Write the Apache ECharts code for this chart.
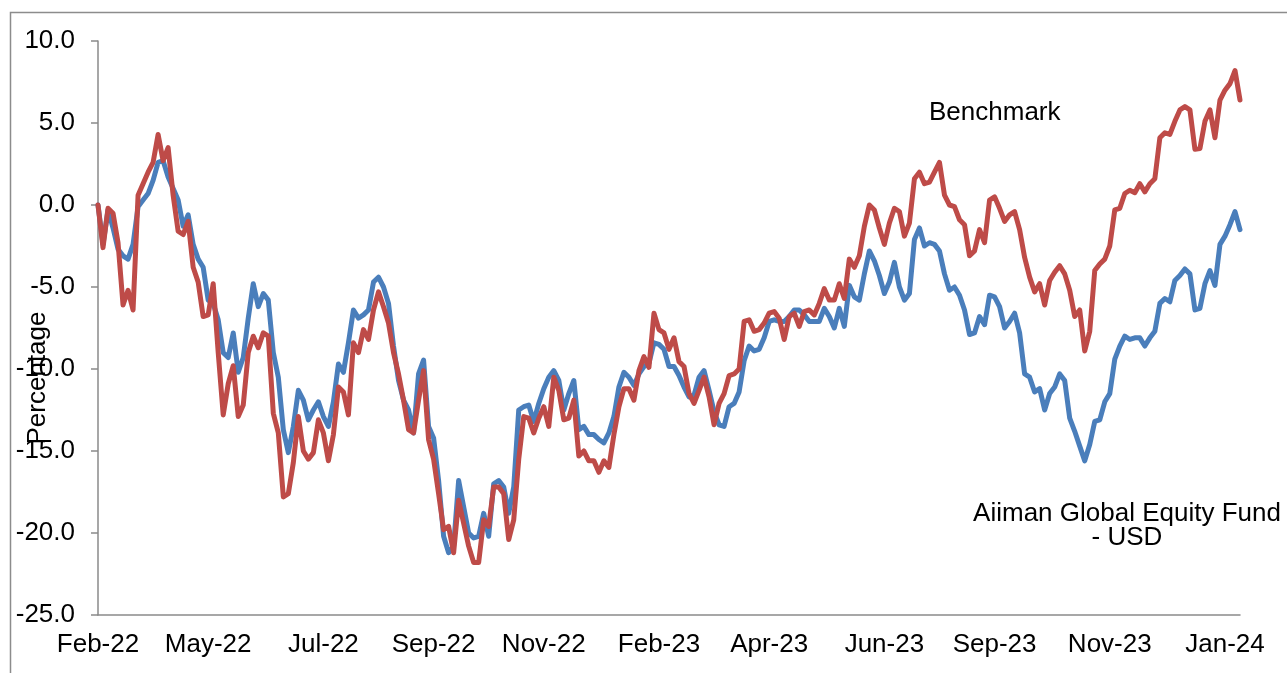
<!DOCTYPE html>
<html>
<head>
<meta charset="utf-8">
<script src="https://cdn.jsdelivr.net/npm/echarts@6/dist/echarts.min.js"></script>
<style>
html,body{margin:0;padding:0;background:#fff;}
#chart{width:1287px;height:673px;}
</style>
</head>
<body>
<div id="chart"></div>
<script>
// Tick labels on the x axis and the category index where each appears
var tickLabels = ['Feb-22','May-22','Jul-22','Sep-22','Nov-22','Feb-23','Apr-23','Jun-23','Sep-23','Nov-23','Jan-24'];
var tickIndex = [0,22,45,67,89,112,134,157,179,202,225];

// Aiiman Global Equity Fund - USD (%)
var fund = [
0.0,-2.4,-0.3,-1.4,-2.7,-3.1,-3.3,-2.4,-0.1,0.3,
0.7,1.5,2.6,2.7,1.7,1.0,0.3,-1.3,-0.6,-2.4,
-3.3,-3.8,-5.8,-6.0,-7.0,-9.0,-9.3,-7.8,-10.2,-9.3,
-6.9,-4.8,-6.2,-5.4,-5.8,-9.0,-10.5,-13.7,-15.1,-13.5,
-11.3,-11.9,-13.1,-12.5,-12.0,-12.9,-13.5,-12.0,-9.7,-10.2,
-8.4,-6.4,-6.9,-6.7,-6.4,-4.7,-4.4,-5.0,-6.0,-8.6,
-10.7,-11.9,-12.5,-13.9,-10.3,-9.45,-13.5,-14.2,-16.8,-20.2,
-21.2,-20.8,-16.8,-18.4,-20.0,-20.3,-20.2,-18.8,-20.2,-17.0,
-16.8,-17.2,-18.8,-17.2,-12.5,-12.3,-12.2,-13.2,-12.1,-11.2,
-10.5,-10.1,-10.7,-12.5,-11.5,-10.7,-13.7,-13.5,-14.0,-14.0,
-14.3,-14.5,-13.9,-12.9,-11.1,-10.2,-10.5,-11.0,-10.3,-9.85,
-9.65,-8.4,-8.5,-8.8,-9.85,-9.85,-10.4,-11.1,-11.7,-11.6,
-10.5,-10.1,-11.3,-12.6,-13.4,-13.5,-12.3,-12.1,-11.4,-9.5,
-8.6,-8.9,-8.8,-8.1,-7.1,-7.0,-7.1,-7.1,-6.8,-6.4,
-6.4,-6.7,-7.1,-7.1,-7.1,-6.3,-6.8,-7.5,-6.3,-7.4,
-4.9,-5.6,-5.8,-4.2,-2.8,-3.4,-4.3,-5.4,-4.7,-3.5,
-5.0,-5.8,-5.4,-2.1,-1.4,-2.5,-2.3,-2.4,-2.8,-4.2,
-5.2,-5.0,-5.5,-6.4,-7.9,-7.8,-6.8,-7.3,-5.5,-5.6,
-6.2,-7.5,-7.1,-6.6,-7.8,-10.3,-10.5,-11.4,-11.2,-12.5,
-11.5,-11.1,-10.3,-10.7,-13.0,-13.8,-14.7,-15.6,-14.6,-13.2,
-13.1,-12.0,-11.5,-9.4,-8.6,-8.0,-8.2,-8.1,-8.1,-8.6,
-8.1,-7.7,-6.0,-5.7,-5.9,-4.6,-4.3,-3.9,-4.2,-6.4,
-6.3,-4.8,-4.0,-4.9,-2.4,-1.9,-1.2,-0.4,-1.5
];

// Benchmark (%)
var benchmark = [
0.0,-2.6,-0.2,-0.5,-2.3,-6.1,-5.2,-6.4,0.6,1.3,
2.0,2.6,4.3,2.7,3.5,0.6,-1.6,-1.8,-1.0,-3.8,
-4.7,-6.8,-6.7,-4.8,-9.0,-12.8,-10.9,-9.8,-12.9,-12.2,
-9.0,-8.0,-8.7,-7.8,-8.0,-12.7,-13.9,-17.8,-17.6,-15.7,
-12.9,-15.0,-15.5,-15.1,-13.1,-13.9,-15.6,-14.0,-11.1,-11.4,
-12.8,-8.4,-9.0,-7.6,-8.2,-6.4,-5.3,-6.2,-7.2,-9.0,
-10.3,-11.9,-13.7,-13.9,-11.9,-10.1,-14.3,-15.5,-17.6,-19.8,
-19.6,-21.2,-18.0,-19.4,-20.8,-21.8,-21.8,-19.2,-19.6,-17.2,
-17.2,-17.6,-20.4,-19.2,-15.5,-12.9,-13.0,-13.9,-13.0,-12.3,
-13.5,-10.5,-11.3,-13.1,-13.0,-11.9,-15.3,-15.0,-15.6,-15.6,
-16.3,-15.6,-16.0,-14.0,-12.3,-11.2,-11.2,-11.9,-10.1,-9.25,
-9.9,-6.6,-7.6,-7.8,-8.8,-8.1,-9.55,-9.85,-11.5,-12.1,
-11.3,-10.5,-11.7,-13.4,-12.1,-11.5,-10.4,-10.3,-10.0,-7.1,
-7.0,-7.7,-7.6,-7.2,-6.6,-6.5,-6.9,-8.2,-6.8,-6.6,
-7.4,-6.5,-6.4,-6.7,-6.0,-5.1,-5.8,-5.8,-4.8,-5.7,
-3.3,-3.8,-3.1,-1.3,0.0,-0.3,-1.4,-2.4,-1.1,-0.2,
-0.4,-1.9,-1.1,1.6,2.0,1.3,1.4,2.0,2.6,0.6,
0.0,-0.1,-0.9,-1.2,-3.1,-2.8,-1.5,-2.3,0.3,0.5,
-0.2,-1.0,-0.6,-0.4,-1.5,-3.2,-4.4,-5.3,-4.8,-6.1,
-4.6,-4.1,-3.7,-4.2,-5.2,-6.8,-6.4,-8.9,-7.7,-4.0,
-3.6,-3.3,-2.5,-0.3,-0.2,0.7,0.9,0.75,1.3,0.8,
1.3,1.6,4.1,4.4,4.3,5.1,5.8,6.0,5.8,3.4,
3.45,5.1,5.8,4.1,6.4,7.0,7.4,8.2,6.4
];

var yMin = -25, yMax = 10, yStep = 5;

// Category list: tick labels at their positions, unique placeholders elsewhere
var categories = [];
for (var i = 0; i < fund.length; i++) {
  var k = tickIndex.indexOf(i);
  categories.push(k >= 0 ? tickLabels[k] : ('#' + i));
}

var FONT = 'Liberation Sans, Arial, sans-serif';
var FS = 26;
var chart = echarts.init(document.getElementById('chart'), null, {renderer: 'canvas'});
chart.setOption({
  animation: false,
  backgroundColor: '#ffffff',
  grid: {left: 98, right: 47, top: 41, bottom: 58, containLabel: false},
  xAxis: {
    type: 'category',
    data: categories,
    boundaryGap: false,
    axisLine: {show: true, onZero: false, lineStyle: {color: '#8a8a8a', width: 1.5}},
    axisTick: {show: false},
    splitLine: {show: false},
    axisLabel: {
      interval: function (idx) { return tickIndex.indexOf(idx) >= 0; },
      color: '#000', fontSize: FS, fontFamily: FONT, margin: 17,
      formatter: function (v) { return v; }
    }
  },
  yAxis: {
    type: 'value',
    min: yMin, max: yMax, interval: yStep,
    axisLine: {show: true, lineStyle: {color: '#8a8a8a', width: 1.5}},
    axisTick: {show: true, inside: false, length: 7, lineStyle: {color: '#8a8a8a', width: 1.5}},
    splitLine: {show: false},
    axisLabel: {
      color: '#000', fontSize: FS, fontFamily: FONT, margin: 23,
      formatter: function (v) { return v.toFixed(1); }
    }
  },
  series: [
    {
      name: 'Aiiman Global Equity Fund - USD', type: 'line', data: fund,
      showSymbol: false, symbol: 'none',
      lineStyle: {color: '#4A7EBB', width: 5, join: 'round', cap: 'round'},
      itemStyle: {color: '#4A7EBB'}
    },
    {
      name: 'Benchmark', type: 'line', data: benchmark,
      showSymbol: false, symbol: 'none',
      lineStyle: {color: '#BE4B48', width: 5, join: 'round', cap: 'round'},
      itemStyle: {color: '#BE4B48'}
    }
  ],
  graphic: [
    {type: 'rect', left: 8, top: 10, shape: {width: 1300, height: 700}, silent: true, z: -1,
     style: {fill: null, stroke: '#8c8c8c', lineWidth: 1.5}},
    {type: 'text', x: 38, y: 378, rotation: Math.PI / 2, silent: true,
     style: {text: 'Percentage', fill: '#000', font: FS + 'px ' + FONT, textAlign: 'center', textVerticalAlign: 'middle'}},
    {type: 'text', x: 929, y: 113, silent: true,
     style: {text: 'Benchmark', fill: '#000', font: FS + 'px ' + FONT, textAlign: 'left', textVerticalAlign: 'middle'}},
    {type: 'text', x: 1127, y: 526, silent: true,
     style: {text: 'Aiiman Global Equity Fund\n- USD', fill: '#000', font: FS + 'px ' + FONT, lineHeight: 24, textAlign: 'center', textVerticalAlign: 'middle'}}
  ]
});
</script>
</body>
</html>
